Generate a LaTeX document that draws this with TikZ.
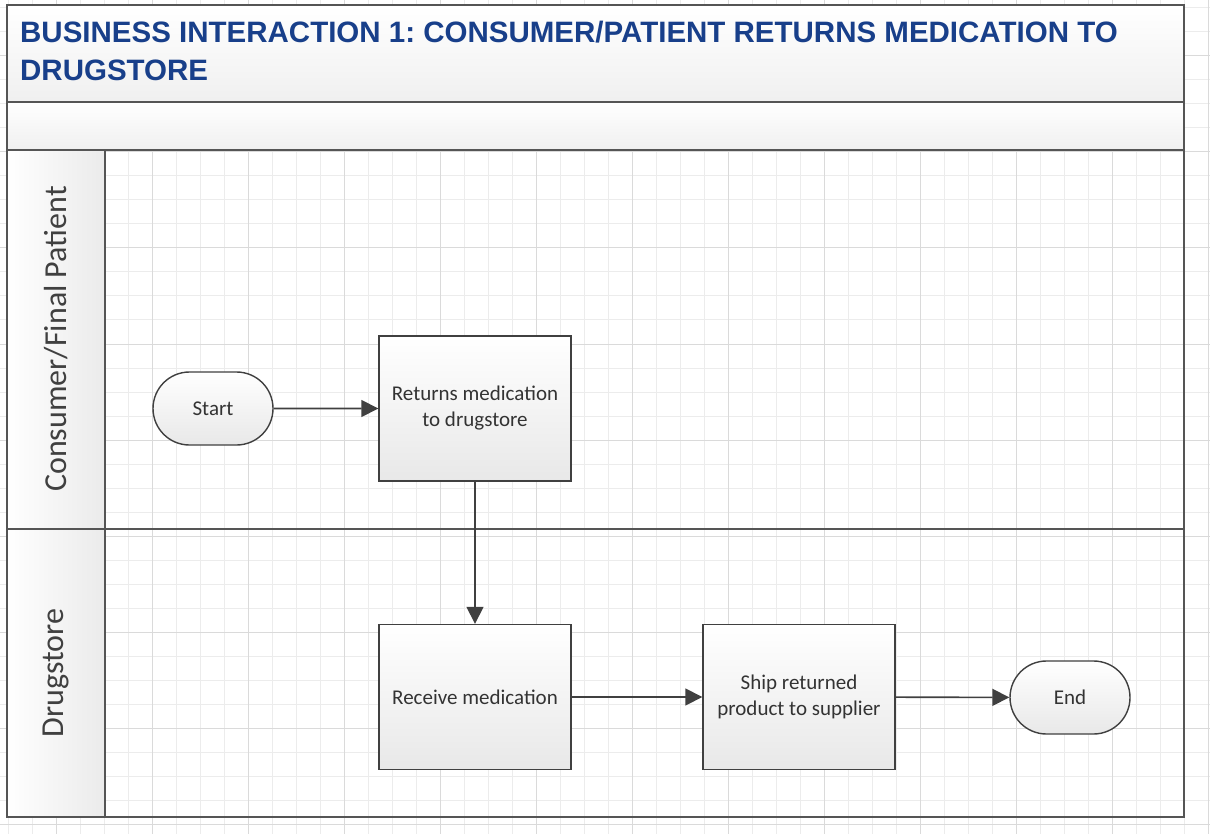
\documentclass[tikz,border=0pt]{standalone}
\usepackage{fontspec}
\setmainfont{Carlito}
\newfontfamily\titlefont{Liberation Sans}
\usetikzlibrary{arrows.meta,shapes.misc}
\frenchspacing
\definecolor{titleblue}{HTML}{183F8A}
\definecolor{minorgrid}{HTML}{ECECEC}
\definecolor{majorgrid}{HTML}{DADADA}
\definecolor{framecol}{HTML}{555555}
\definecolor{edgecol}{HTML}{404040}
\definecolor{txtcol}{HTML}{333333}
\tikzset{
  mingrid/.style={draw=minorgrid,line width=1pt},
  majgrid/.style={draw=majorgrid,line width=1pt},
  band/.style={top color=white,bottom color=black!6},
  lanehead/.style={left color=white,right color=black!8},
  frameline/.style={draw=framecol,line width=1.6pt},
  procbox/.style={draw=edgecol,line width=1.4pt,top color=white,bottom color=black!9,
    minimum width=192pt,minimum height=145pt,align=center,text=txtcol,
    font=\fontsize{21pt}{26pt}\selectfont,inner sep=0pt},
  termbox/.style={rounded rectangle,draw=edgecol,line width=1.4pt,top color=white,bottom color=black!9,
    minimum width=120pt,minimum height=73pt,text=txtcol,
    font=\fontsize{21pt}{26pt}\selectfont,inner sep=0pt},
  flow/.style={draw=edgecol,line width=1.6pt,-{Triangle[length=17pt,width=17pt]}},
  lanelabel/.style={rotate=90,text=edgecol,font=\fontsize{32pt}{38pt}\selectfont},
  titletext/.style={anchor=base west,text=titleblue,inner sep=0pt,
    font=\titlefont\bfseries\fontsize{29.5pt}{38pt}\selectfont}
}
\begin{document}
\begin{tikzpicture}[x=1pt,y=-1pt]
\useasboundingbox (0,0) rectangle (1210,834);
\fill[white] (0,0) rectangle (1210,834);
% grid
\foreach \v in {8,32,...,1208} {
  \draw[mingrid] (\v,0) -- (\v,834);
  \draw[mingrid] (0,\v) -- (1210,\v);
}
\foreach \v in {56,152,...,1208} {
  \draw[majgrid] (\v,0) -- (\v,834);
  \draw[majgrid] (0,\v) -- (1210,\v);
}
% bands
\fill[band] (7,5) rectangle (1184,102);
\fill[band] (7,102) rectangle (1184,150);
\fill[lanehead] (7,150) rectangle (105,529);
\fill[lanehead] (7,529) rectangle (105,817);
% frame
\draw[frameline] (7,5) rectangle (1184,817);
\draw[frameline] (7,102) -- (1184,102);
\draw[frameline] (7,150) -- (1184,150);
\draw[frameline] (7,529) -- (1184,529);
\draw[frameline] (105,150) -- (105,817);
% title
\node[titletext] (title1) at (20,43) {BUSINESS INTERACTION 1: CONSUMER/PATIENT RETURNS MEDICATION TO};
\node[titletext] (title2) at (20,81) {DRUGSTORE};
% lane labels
\node[lanelabel] (lane1) at (56,339) {Consumer/Final Patient};
\node[lanelabel] (lane2) at (56,673) {Drugstore};
% nodes
\node[termbox] (start) at (213,408.5) {Start};
\node[procbox] (ret) at (475,408.5) {Returns medication\\to drugstore};
\node[procbox] (rec) at (475,697) {Receive medication};
\node[procbox] (ship) at (799,697) {Ship returned\\product to supplier};
\node[termbox] (end) at (1070,697.5) {End};
% connectors
\draw[flow] (start) -- (ret);
\draw[flow] (ret) -- (rec);
\draw[flow] (rec) -- (ship);
\draw[flow] (ship) -- (end);
\end{tikzpicture}
\end{document}
